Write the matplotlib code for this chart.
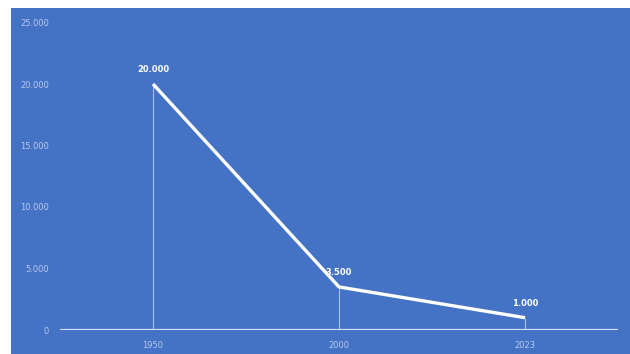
import matplotlib.pyplot as plt

years = ["1950", "2000", "2023"]
values = [20000, 3500, 1000]
value_labels = ["20.000", "3.500", "1.000"]
y_ticks = [0, 5000, 10000, 15000, 20000, 25000]
y_tick_labels = ["0", "5.000", "10.000", "15.000", "20.000", "25.000"]

bg = "#4472C4"
fig = plt.figure(figsize=(6.3, 3.54), dpi=100)
fig.patch.set_facecolor("white")

# blue panel behind the chart
bg_ax = fig.add_axes([11 / 630, 0, 1 - 11 / 630, 1 - 8 / 354], zorder=-1)
bg_ax.set_facecolor(bg)
bg_ax.set_xticks([])
bg_ax.set_yticks([])
for s in bg_ax.spines.values():
    s.set_visible(False)

ax = fig.add_axes([60 / 630, 24 / 354, 558 / 630, 307.5 / 354], zorder=1)
ax.set_facecolor("none")
x = list(range(len(years)))

# drop lines
ax.vlines(x, 0, values, color="#a9bfe8", linewidth=0.8, zorder=2)
ax.plot(x, values, color="white", linewidth=2.4, solid_capstyle="butt", zorder=3)
for xi, v, lab in zip(x, values, value_labels):
    ax.annotate(lab, (xi, v), xytext=(0, 7), textcoords="offset points",
                ha="center", va="bottom", fontsize=6, fontweight="bold",
                color="white")

ax.axhline(0, color="#d6e0f5", linewidth=1.6, zorder=2)
ax.set_xlim(-0.5, 2.5)
ax.set_ylim(0, 25000)
ax.set_xticks(x)
ax.set_xticklabels(years)
ax.set_yticks(y_ticks)
ax.set_yticklabels(y_tick_labels)
ax.tick_params(length=0, labelsize=6, labelcolor="#b9c9ec", pad=8)
for s in ax.spines.values():
    s.set_visible(False)

fig.savefig("out.png", dpi=100, facecolor=fig.get_facecolor())
